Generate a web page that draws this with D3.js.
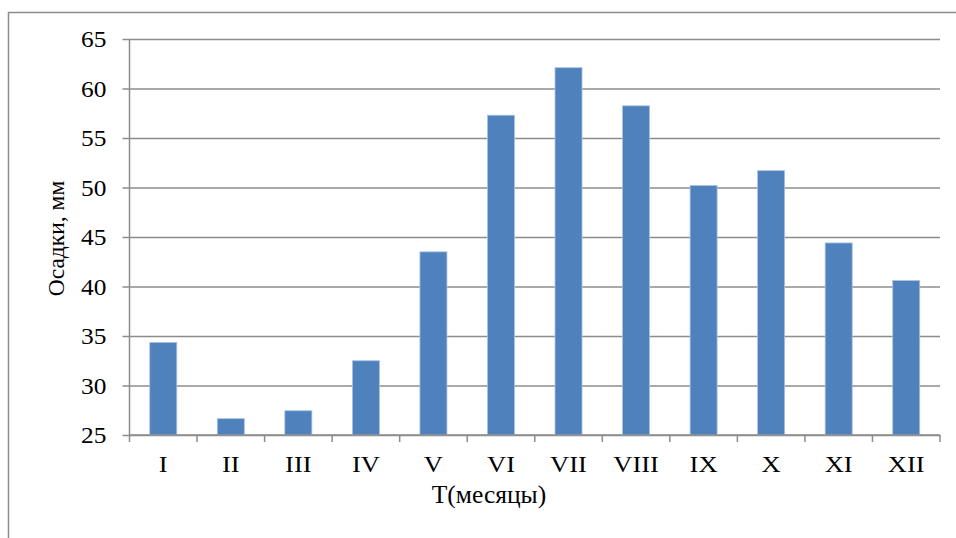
<!DOCTYPE html>
<html>
<head>
<meta charset="utf-8">
<script src="https://cdn.jsdelivr.net/npm/d3@7"></script>
<style>
  html, body { margin: 0; padding: 0; background: #fff; }
  svg { display: block; }
  svg text { font-family: "Liberation Serif", "Times New Roman", Times, "DejaVu Serif", serif; fill: #000; }
</style>
</head>
<body>
<svg id="chart" width="956" height="538"></svg>
<script>
// Monthly precipitation, mm
const months = ["I", "II", "III", "IV", "V", "VI", "VII", "VIII", "IX", "X", "XI", "XII"];
const precipitation = [34.35, 26.65, 27.45, 32.5, 43.5, 57.3, 62.1, 58.25, 50.2, 51.7, 44.4, 40.6];
const yTicks = [25, 30, 35, 40, 45, 50, 55, 60, 65];
const yTitle = "Осадки, мм";
const xTitle = "T(месяцы)";

const svg = d3.select("#chart");
const GRID = "#8c8c8c";
const LABEL_STRETCH = 1.13; // labels are set slightly wide

// Outer frame of the chart area
svg.append("rect")
  .attr("x", 8.5).attr("y", 12.5)
  .attr("width", 1000).attr("height", 600)
  .attr("fill", "none").attr("stroke", GRID).attr("stroke-width", 1.5);

const plot = { left: 129.5, right: 940, top: 39, bottom: 435 };

const x = d3.scaleBand()
  .domain(months)
  .range([plot.left, plot.right])
  .paddingInner(0.6)
  .paddingOuter(0.3);

const y = d3.scaleLinear()
  .domain([25, 65])
  .range([plot.bottom, plot.top]);

// Horizontal gridlines with short tick stubs on the left
const gy = svg.append("g")
  .attr("transform", `translate(${plot.right},0)`)
  .call(d3.axisLeft(y)
    .tickValues(yTicks)
    .tickSize(plot.right - plot.left + 7)
    .tickFormat(""));
gy.select(".domain").remove();
gy.selectAll(".tick line")
  .attr("stroke", GRID).attr("stroke-width", 1.5);

// Value labels
svg.append("g")
  .selectAll("text")
  .data(yTicks)
  .join("text")
  .attr("transform", d => `translate(106.5,${y(d) + 8}) scale(${LABEL_STRETCH},1)`)
  .attr("text-anchor", "end")
  .attr("font-size", 22.5)
  .text(d3.format("d"));

// Bars
svg.append("g")
  .selectAll("rect")
  .data(months.map((m, i) => ({ m, v: precipitation[i] })))
  .join("rect")
  .attr("x", d => x(d.m))
  .attr("y", d => y(d.v))
  .attr("width", x.bandwidth())
  .attr("height", d => y(25) - y(d.v))
  .attr("fill", "#4f81bd")
  .attr("stroke", "#a9c2e3")
  .attr("stroke-width", 0.8);

// Vertical value axis line
svg.append("line")
  .attr("x1", plot.left).attr("x2", plot.left)
  .attr("y1", plot.top).attr("y2", plot.bottom)
  .attr("stroke", GRID).attr("stroke-width", 1.5);

// Category axis with ticks between bands
const bounds = d3.range(months.length + 1).map(i => plot.left + i * (plot.right - plot.left) / months.length);
const gx = svg.append("g");
gx.append("line")
  .attr("x1", plot.left).attr("x2", plot.right)
  .attr("y1", plot.bottom).attr("y2", plot.bottom)
  .attr("stroke", GRID).attr("stroke-width", 1.5);
gx.selectAll("line.tk")
  .data(bounds)
  .join("line")
  .attr("class", "tk")
  .attr("x1", d => d).attr("x2", d => d)
  .attr("y1", plot.bottom).attr("y2", plot.bottom + 7)
  .attr("stroke", GRID).attr("stroke-width", 1.5);
gx.selectAll("text")
  .data(months)
  .join("text")
  .attr("transform", d => `translate(${x(d) + x.bandwidth() / 2},472.3) scale(${LABEL_STRETCH},1)`)
  .attr("text-anchor", "middle")
  .attr("font-size", 23.5)
  .text(d => d);

// Axis titles
svg.append("text")
  .attr("transform", "translate(63.5,238.5) rotate(-90)")
  .attr("text-anchor", "middle")
  .attr("font-size", 23.5)
  .text(yTitle);

svg.append("text")
  .attr("x", 489)
  .attr("y", 503)
  .attr("text-anchor", "middle")
  .attr("font-size", 25.5)
  .text(xTitle);
</script>
</body>
</html>
